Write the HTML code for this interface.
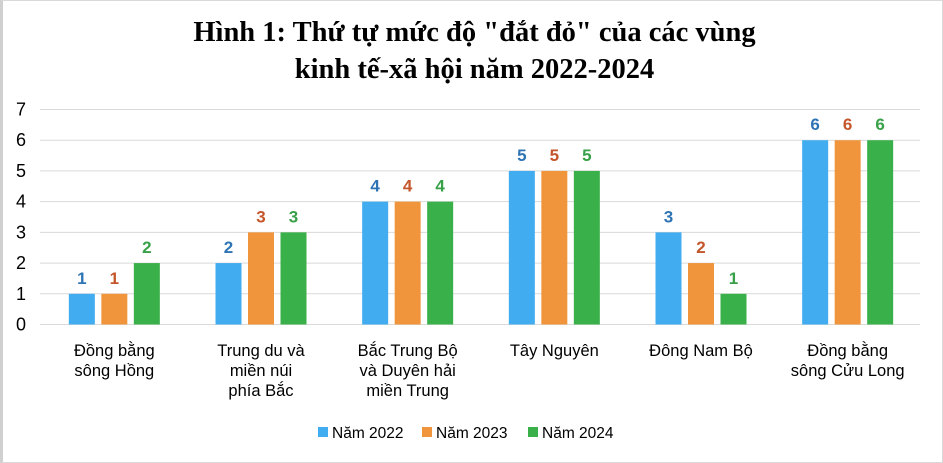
<!DOCTYPE html>
<html><head><meta charset="utf-8"><style>
body{margin:0;background:#fff}
#c{position:relative;width:943px;height:463px;overflow:hidden;font-family:"Liberation Sans",sans-serif;box-sizing:border-box;border:1px solid #d9d9d9;border-left:3px solid #d0d0d0}
.t{position:absolute;left:0;width:943px;text-align:center;font-family:"Liberation Serif",serif;font-weight:bold;font-size:28.5px;color:#000}
</style></head><body>
<div id="c">
<div class="t" style="top:16px">Hình 1: Thứ tự mức độ "đắt đỏ" của các vùng</div>
<div class="t" style="top:53px">kinh tế-xã hội năm 2022-2024</div>
<svg id="s" width="943" height="463" style="position:absolute;left:-3px;top:-1px"></svg>
</div>
<script>
const categories=[["Đồng bằng","sông Hồng"],["Trung du và","miền núi","phía Bắc"],["Bắc Trung Bộ","và Duyên hải","miền Trung"],["Tây Nguyên"],["Đông Nam Bộ"],["Đồng bằng","sông Cửu Long"]];
const seriesNames=["Năm 2022","Năm 2023","Năm 2024"];
const y2022=[1,2,4,5,3,6];
const y2023=[1,3,4,5,2,6];
const y2024=[2,3,4,5,1,6];
const yTicks=[0,1,2,3,4,5,6,7];
const series=[y2022,y2023,y2024];
const fills=["#41adf0","#f0953c","#3ab04a"];
const lab=["#2e74b5","#c4562a","#38a048"];
const NS="http://www.w3.org/2000/svg";
const s=document.getElementById('s');
const L=40,R=920,Y0=324.5,Y7=109.5;
const yS=v=>Y0-(Y0-Y7)*v/7;
const gw=(R-L)/categories.length;
const bw=26,step=32.5;
const xB=(i,k)=>L+gw*i+gw/2+(k-1)*step-bw/2+1;
function mk(t,a,txt){const e=document.createElementNS(NS,t);for(const k in a)e.setAttribute(k,a[k]);if(txt!==undefined)e.textContent=txt;s.appendChild(e);return e;}
yTicks.forEach(v=>{
 const g=mk('line',{x1:L,x2:R,y1:yS(v),y2:yS(v),stroke:'#d9d9d9','stroke-width':1});
 
 
 const t=mk('text',{x:21,y:yS(v)+6,'text-anchor':'middle','font-size':18,fill:'#000'},v);
 
 
});
series.forEach((arr,k)=>arr.forEach((v,i)=>{
 const r=mk('rect',{x:xB(i,k),y:yS(v),width:bw,height:Y0-yS(v),fill:fills[k]});
 
 
 const t=mk('text',{x:xB(i,k)+bw/2,y:yS(v)-10,'text-anchor':'middle','font-size':17,'font-weight':'bold',fill:lab[k]},v);
 
 
}));
categories.forEach((c,i)=>c.forEach((ln,j)=>{
 const t=mk('text',{x:L+gw*i+gw/2+1,y:356+j*20,'text-anchor':'middle','font-size':16.5,fill:'#000'},ln);
 
 
}));
const lx=[318,422,528];
seriesNames.forEach((n,k)=>{
 const r=mk('rect',{x:lx[k],y:427,width:10,height:10,fill:fills[k]});
 
 
 const t=mk('text',{x:lx[k]+14,y:438,'font-size':15.5,fill:'#000'},n);
 
 
});
</script>
</body></html>
